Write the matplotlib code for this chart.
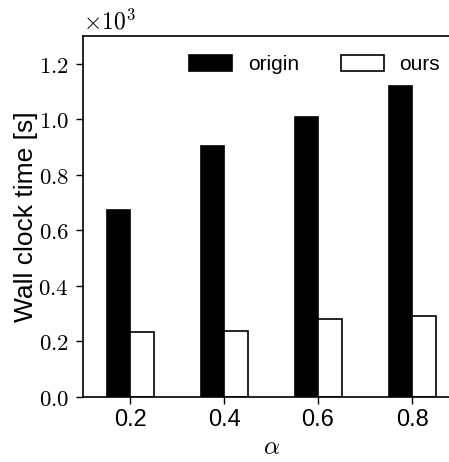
import numpy as np
import matplotlib
matplotlib.use("Agg")
import matplotlib.pyplot as plt
from matplotlib.ticker import FuncFormatter, MultipleLocator

plt.rcParams['font.family'] = ['Liberation Sans', 'DejaVu Sans']
plt.rcParams['mathtext.fontset'] = 'cm'

alphas = ["0.2", "0.4", "0.6", "0.8"]
origin = [674, 903, 1008, 1119]
ours = [235, 239, 281, 291]

fig = plt.figure(figsize=(4.49, 4.62), dpi=100)
ax = fig.add_axes([0.1849, 0.1407, 0.8374, 0.7814])

x = np.arange(len(alphas))
w = 0.25
ax.bar(x - w / 2, origin, w, color="black", edgecolor="black", linewidth=1.2, label="origin")
ax.bar(x + w / 2, ours, w, color="white", edgecolor="black", linewidth=1.2, label="ours")

ax.set_xlim(-0.5, 3.5)
ax.set_ylim(0, 1300)
ax.set_xticks(x)
ax.set_xticklabels(alphas, fontsize=17)
ax.yaxis.set_major_locator(MultipleLocator(200))
ax.yaxis.set_major_formatter(FuncFormatter(lambda v, p: r"$%.1f$" % (v / 1000)))
ax.tick_params(axis="y", labelsize=16.5, length=5, width=1, pad=5)
ax.tick_params(axis="x", length=5, width=1)
for s in ax.spines.values():
    s.set_linewidth(1.2)
ax.spines["right"].set_visible(False)

ax.text(0.0, 1.005, r"$\times10^{3}$", transform=ax.transAxes, fontsize=17,
        ha="left", va="bottom")

ax.set_ylabel("Wall clock time [s]", fontsize=19, labelpad=0.5)
ax.set_xlabel(r"$\alpha$", fontsize=18, labelpad=3)

ax.legend(ncol=2, frameon=False, loc="upper right", bbox_to_anchor=(0.999, 0.999),
          fontsize=15, handlelength=2.07, handleheight=0.77, handletextpad=0.75,
          columnspacing=2.0)

fig.savefig("out.png", dpi=100)
